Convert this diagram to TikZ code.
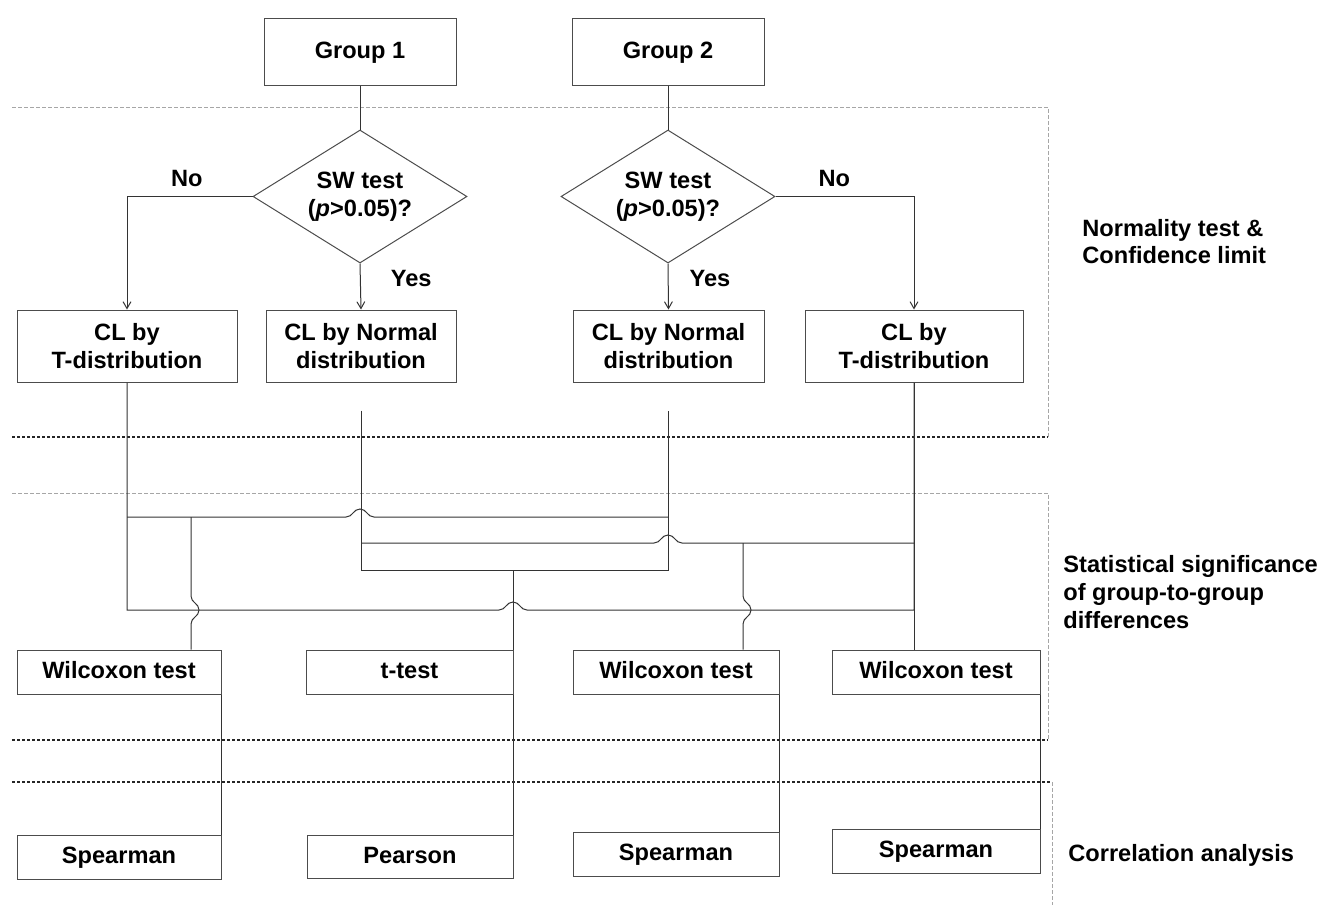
\documentclass[tikz,border=0pt]{standalone}
\usepackage{fontspec}
\setmainfont{Liberation Sans}
\usetikzlibrary{arrows,shapes.geometric}

\tikzset{
  box/.style={rectangle,draw=black!70,line width=0.5pt,align=center},
  single/.style={text height=9pt,text depth=2.5pt},
  test/.style={diamond,draw=black!70,line width=0.5pt,align=center,aspect=1.6,
    minimum width=107pt,minimum height=66.5pt},
  lab/.style={anchor=west,align=left},
  wire/.style={draw=black!80,line width=0.5pt},
  grayframe/.style={draw=black!35,line width=0.5pt,dash pattern=on 2pt off 1pt},
  blackframe/.style={draw=black!85,line width=0.75pt,dash pattern=on 1.5pt off 1pt}
}

\begin{document}
\begin{tikzpicture}[x=0.5pt,y=-0.5pt,>=angle 60,
    every node/.style={inner sep=0pt,font=\bfseries\fontsize{11.8}{13.8}\selectfont}]
  \useasboundingbox (0,0) rectangle (1333,905);

  % section frames
  \draw[grayframe] (12,107) -- (1048,107) -- (1048,437);
  \draw[blackframe] (12,437) -- (1048,437);
  \draw[grayframe] (12,493) -- (1048,493) -- (1048,740);
  \draw[blackframe] (12,740) -- (1048,740);
  \draw[blackframe] (12,782) -- (1052,782);
  \draw[grayframe] (1052,782) -- (1052,905);

  \node[box,single,minimum width=96pt,minimum height=33.5pt] (g1) at (360,51.5) {Group 1};
  \node[box,single,minimum width=96pt,minimum height=33.5pt] (g2) [right of=g1,node distance=154pt] {Group 2};

  \node[test] (d1) [below of=g1,node distance=72.5pt] {SW test\\(\textit{p}>0.05)?};
  \node[test] (d2) [below of=g2,node distance=72.5pt] {SW test\\(\textit{p}>0.05)?};

  \node[box,minimum width=110pt,minimum height=36pt] (t1) at (127,346) {CL by\\T-distribution};
  \node[box,minimum width=95pt,minimum height=36pt] (n1) at (361,346) {CL by Normal\\distribution};
  \node[box,minimum width=95.5pt,minimum height=36pt] (n2) at (668.5,346) {CL by Normal\\distribution};
  \node[box,minimum width=109pt,minimum height=36pt] (t2) at (914,346) {CL by\\T-distribution};

  \node[box,single,minimum width=102pt,minimum height=22pt] (w1) at (119,672) {Wilcoxon test};
  \node[box,single,minimum width=103.5pt,minimum height=22pt] (tt) at (409.5,672) {t-test};
  \node[box,single,minimum width=103pt,minimum height=22pt] (w3) at (676,672) {Wilcoxon test};
  \node[box,single,minimum width=104pt,minimum height=22pt] (w4) at (936,672) {Wilcoxon test};

  \node[box,single,minimum width=102pt,minimum height=22pt] (s1) at (119,857) {Spearman};
  \node[box,single,minimum width=103pt,minimum height=21.5pt] (pe) at (410,856.5) {Pearson};
  \node[box,single,minimum width=103pt,minimum height=22pt] (s3) at (676,854) {Spearman};
  \node[box,single,minimum width=104pt,minimum height=22pt] (s4) at (936,851) {Spearman};

  \node[lab] (sec1) at (1082,241.5) {Normality test \&\\Confidence limit};
  \node[lab] (sec2) at (1063,592) {Statistical significance\\of group-to-group\\differences};
  \node[lab] (sec3) at (1068,855) {Correlation analysis};

  % normality test
  \draw[wire] (g1) -- (d1);
  \draw[wire] (g2) -- (d2);
  \draw[wire,->] (d1.west) -| node[pos=0.262,above=4.6pt] {No} (t1.north);
  \draw[wire,->] (d1.south) -- node[pos=0.32,right=15pt] {Yes} (n1.north);
  \draw[wire,->] (d2.south) -- node[pos=0.32,right=10.5pt] {Yes} (n2.north);
  \draw[wire,->] (d2.east) -| node[pos=0.212,above=4.6pt] {No} (t2.north);

  % group-to-group comparisons
  \coordinate (lvA) at (0,517);
  \coordinate (lvB) at (0,543);
  \coordinate (lvC) at (0,570);
  \coordinate (j1) at (191,517);
  \coordinate (j3) at (743,543);

  \draw[wire] (t1.south) |- (499,610) .. controls +(7,0) and +(-7,0) .. (513,602)
    .. controls +(7,0) and +(-7,0) .. (527,610) -| (t2.south);
  \draw[wire] (t1.south |- lvA) -- (346,517) .. controls +(7,0) and +(-7,0) .. (360,509)
    .. controls +(7,0) and +(-7,0) .. (374,517) -- (n2.south |- lvA);
  \draw[wire,shorten <=14pt,shorten >=14pt] (n1.south) -- (n1.south |- lvC)
    -- (n2.south |- lvC) -- (n2.south);
  \draw[wire] (n1.south |- lvB) -- (654,543) .. controls +(7,0) and +(-7,0) .. (668,535)
    .. controls +(7,0) and +(-7,0) .. (682,543) -- (t2.south |- lvB);

  \draw[wire] (j1) -- (191,596) .. controls +(0,7) and +(0,-7) .. (199,610)
    .. controls +(0,7) and +(0,-7) .. (191,624) -- (w1.north -| j1);
  \draw[wire] (tt.north east |- lvC) -- (tt.north east);
  \draw[wire] (j3) -- (743,596) .. controls +(0,7) and +(0,-7) .. (751,610)
    .. controls +(0,7) and +(0,-7) .. (743,624) -- (w3.north -| j3);
  \draw[wire] (t2.south) -- (w4.north -| t2.south);

  % correlation
  \draw[wire] (w1.south east) -- (s1.north east);
  \draw[wire] (tt.south east) -- (pe.north east);
  \draw[wire] (w3.south east) -- (s3.north east);
  \draw[wire] (w4.south east) -- (s4.north east);
\end{tikzpicture}
\end{document}
